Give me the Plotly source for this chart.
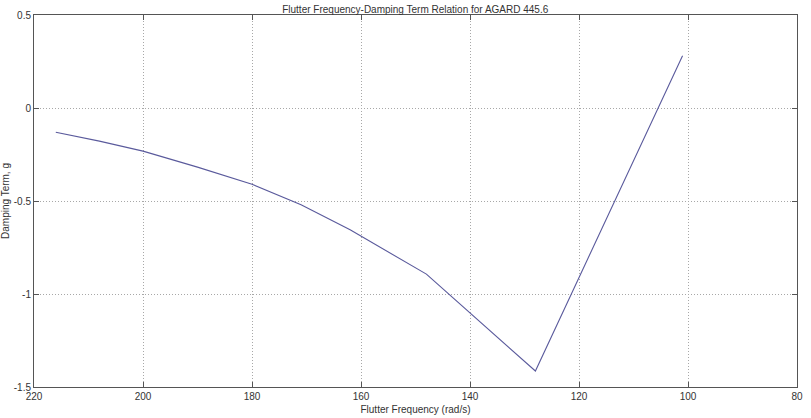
import plotly.graph_objects as go

freq = [216, 208, 200, 190, 180, 171, 162, 148, 128, 101]
damping = [-0.13, -0.178, -0.232, -0.318, -0.41, -0.52, -0.655, -0.893, -1.414, 0.281]

x_ticks = [220, 200, 180, 160, 140, 120, 100, 80]
y_ticks = [-1.5, -1, -0.5, 0, 0.5]
y_tick_text = ["-1.5", "-1", "-0.5", "0", "0.5"]

font_family = "Liberation Sans, Arial, sans-serif"

fig = go.Figure()
fig.add_trace(go.Scatter(x=freq, y=damping, mode="lines",
                         line=dict(color="#5a5a9c", width=1.1),
                         showlegend=False))

axis_common = dict(
    showline=True, linecolor="#555555", linewidth=1, mirror="ticks",
    ticks="inside", ticklen=5, tickcolor="#555555", tickwidth=1,
    showgrid=True, gridcolor="#a8a8a8", griddash="1px,2px", gridwidth=1,
    zeroline=False, automargin=False,
    tickfont=dict(family=font_family, size=10, color="#333333"),
)

fig.update_xaxes(range=[220, 80], tickmode="array", tickvals=x_ticks,
                 title=dict(text="Flutter Frequency (rad/s)", standoff=4,
                            font=dict(family=font_family, size=10, color="#333333")),
                 **axis_common)
fig.update_yaxes(range=[-1.5, 0.5], tickmode="array", tickvals=y_ticks,
                 ticktext=y_tick_text,
                 title=dict(text="Damping Term, g", standoff=4,
                            font=dict(family=font_family, size=10, color="#333333")),
                 **axis_common)

fig.update_layout(
    width=811, height=418,
    margin=dict(l=34, r=14, t=15, b=31),
    paper_bgcolor="white", plot_bgcolor="white",
    title=dict(text="Flutter Frequency-Damping Term Relation for AGARD 445.6",
               x=0.512, xanchor="center", y=0.985, yanchor="top",
               font=dict(family=font_family, size=10, color="#333333")),
)

fig.write_html("out.html")
